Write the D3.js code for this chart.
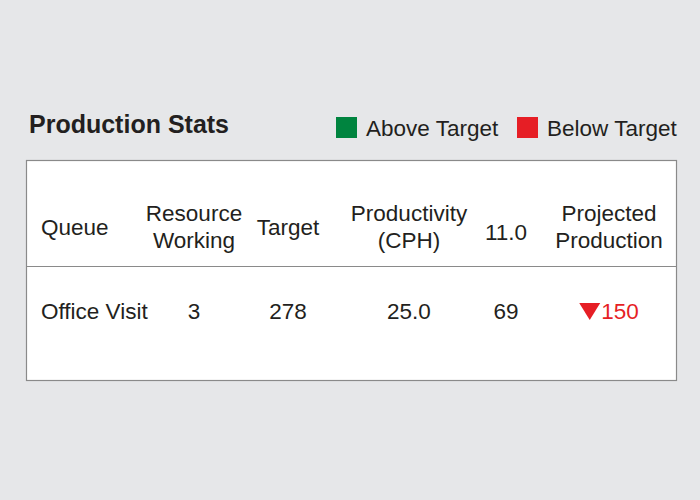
<!DOCTYPE html>
<html>
<head>
<meta charset="utf-8">
<script src="https://d3js.org/d3.v7.min.js"></script>
<style>
  body { margin: 0; background: #e6e7e9; }
  svg { display: block; font-family: Arial, "Liberation Sans", sans-serif; }
</style>
</head>
<body>
<script>
// Table contents
var columns = ['Queue', 'Resource\nWorking', 'Target', 'Productivity\n(CPH)', '11.0', 'Projected\nProduction'];
var rowValues = ['Office Visit', '3', '278', '25.0', '69', '150'];
var rowStatus = 'below';   // projected production vs target
var legendItems = [
  { key: 'above', label: 'Above Target', color: '#00843f' },
  { key: 'below', label: 'Below Target', color: '#e61e25' }
];

var width = 700, height = 500;
var svg = d3.select('body').append('svg')
  .attr('width', width)
  .attr('height', height);

svg.append('rect')
  .attr('width', width).attr('height', height)
  .attr('fill', '#e6e7e9');

// Title
svg.append('text')
  .attr('x', 29).attr('y', 133)
  .attr('font-size', '25px')
  .attr('font-weight', 'bold')
  .attr('fill', '#231f20')
  .text('Production Stats');

// Legend
var legendX = [336, 517];
var legend = svg.selectAll('.legend')
  .data(legendItems)
  .enter().append('g')
  .attr('class', 'legend')
  .attr('transform', function (d, i) { return 'translate(' + legendX[i] + ',117)'; });
legend.append('rect')
  .attr('width', 21).attr('height', 21)
  .attr('fill', function (d) { return d.color; });
legend.append('text')
  .attr('x', 30).attr('y', 19)
  .attr('font-size', '22.5px')
  .attr('fill', '#231f20')
  .text(function (d) { return d.label; });

// Table frame
var box = { x: 26.5, y: 160.5, w: 650, h: 220 };
svg.append('rect')
  .attr('x', box.x).attr('y', box.y)
  .attr('width', box.w).attr('height', box.h)
  .attr('fill', '#fff')
  .attr('stroke', '#8a8a8a')
  .attr('stroke-width', 1.2);
svg.append('line')
  .attr('x1', box.x).attr('x2', box.x + box.w)
  .attr('y1', 266.5).attr('y2', 266.5)
  .attr('stroke', '#8a8a8a')
  .attr('stroke-width', 1.2);

// Column positions
var colX = d3.scaleOrdinal()
  .domain(d3.range(columns.length))
  .range([41, 194, 288, 409, 506, 609]);
var anchor = function (i) { return i === 0 ? 'start' : 'middle'; };
var last = columns.length - 1;

// Header cells
var head = svg.selectAll('.head')
  .data(columns)
  .enter().append('text')
  .attr('class', 'head')
  .attr('font-size', '22.5px')
  .attr('fill', '#231f20')
  .attr('text-anchor', function (d, i) { return anchor(i); })
  .attr('x', function (d, i) { return colX(i); })
  .attr('y', function (d, i) {
    if (d.indexOf('\n') >= 0) return 221;
    return i === 4 ? 240 : 235;
  });
head.selectAll('tspan')
  .data(function (d) { return d.split('\n'); })
  .enter().append('tspan')
  .attr('x', function () { return d3.select(this.parentNode).attr('x'); })
  .attr('dy', function (d, i) { return i === 0 ? 0 : 27; })
  .text(function (d) { return d; });

// Body row (all but the projected production cell)
var rowY = 319;
svg.selectAll('.cell')
  .data(rowValues.slice(0, last))
  .enter().append('text')
  .attr('class', 'cell')
  .attr('font-size', '22.5px')
  .attr('fill', '#231f20')
  .attr('text-anchor', function (d, i) { return anchor(i); })
  .attr('x', function (d, i) { return colX(i); })
  .attr('y', rowY)
  .text(function (d) { return d; });

// Projected production with status arrow
var statusItem = legendItems.filter(function (d) { return d.key === rowStatus; })[0];
var proj = svg.append('g').attr('class', 'projected');
var projText = proj.append('text')
  .attr('font-size', '22.5px')
  .attr('fill', statusItem.color)
  .attr('y', rowY)
  .text(rowValues[last]);
var tw = projText.node().getComputedTextLength();
var triW = 21, triH = 17, gap = 1;
var startX = colX(last) - (triW + gap + tw) / 2;
projText.attr('x', startX + triW + gap);
var tri = rowStatus === 'below'
  ? [[0, 0], [triW, 0], [triW / 2, triH]]
  : [[0, triH], [triW, triH], [triW / 2, 0]];
proj.append('path')
  .attr('transform', 'translate(' + startX + ',' + (rowY - 16) + ')')
  .attr('d', d3.line()(tri) + 'Z')
  .attr('fill', statusItem.color);
</script>
</body>
</html>
